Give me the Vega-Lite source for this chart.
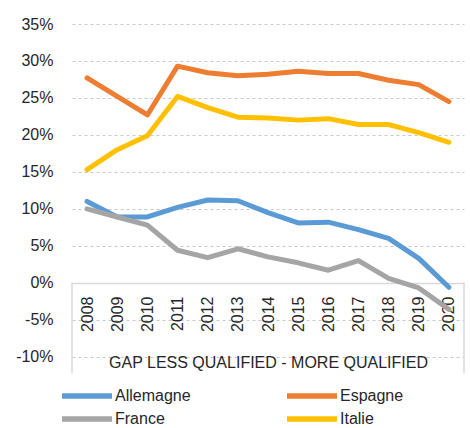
{
  "$schema": "https://vega.github.io/schema/vega-lite/v6.json",
  "width": 392,
  "height": 349,
  "autosize": {"type": "none"},
  "padding": {"left": 72, "top": 24, "right": 6, "bottom": 55},
  "background": "white",
  "config": {
    "view": {"stroke": null},
    "font": "Liberation Sans"
  },
  "resolve": {"axis": {"y": "independent"}},
  "layer": [
    {
      "data": {
        "values": [
          {"year": "2008", "country": "Allemagne", "v": 11.0},
          {"year": "2009", "country": "Allemagne", "v": 8.9},
          {"year": "2010", "country": "Allemagne", "v": 8.9},
          {"year": "2011", "country": "Allemagne", "v": 10.2},
          {"year": "2012", "country": "Allemagne", "v": 11.2},
          {"year": "2013", "country": "Allemagne", "v": 11.1},
          {"year": "2014", "country": "Allemagne", "v": 9.5},
          {"year": "2015", "country": "Allemagne", "v": 8.1},
          {"year": "2016", "country": "Allemagne", "v": 8.2},
          {"year": "2017", "country": "Allemagne", "v": 7.2},
          {"year": "2018", "country": "Allemagne", "v": 6.0},
          {"year": "2019", "country": "Allemagne", "v": 3.3},
          {"year": "2020", "country": "Allemagne", "v": -0.6},
          {"year": "2008", "country": "Espagne", "v": 27.7},
          {"year": "2009", "country": "Espagne", "v": 25.2},
          {"year": "2010", "country": "Espagne", "v": 22.7},
          {"year": "2011", "country": "Espagne", "v": 29.3},
          {"year": "2012", "country": "Espagne", "v": 28.4},
          {"year": "2013", "country": "Espagne", "v": 28.0},
          {"year": "2014", "country": "Espagne", "v": 28.2},
          {"year": "2015", "country": "Espagne", "v": 28.6},
          {"year": "2016", "country": "Espagne", "v": 28.3},
          {"year": "2017", "country": "Espagne", "v": 28.3},
          {"year": "2018", "country": "Espagne", "v": 27.4},
          {"year": "2019", "country": "Espagne", "v": 26.8},
          {"year": "2020", "country": "Espagne", "v": 24.5},
          {"year": "2008", "country": "France", "v": 10.0},
          {"year": "2009", "country": "France", "v": 8.9},
          {"year": "2010", "country": "France", "v": 7.8},
          {"year": "2011", "country": "France", "v": 4.4},
          {"year": "2012", "country": "France", "v": 3.4},
          {"year": "2013", "country": "France", "v": 4.6},
          {"year": "2014", "country": "France", "v": 3.5},
          {"year": "2015", "country": "France", "v": 2.7},
          {"year": "2016", "country": "France", "v": 1.7},
          {"year": "2017", "country": "France", "v": 3.0},
          {"year": "2018", "country": "France", "v": 0.6},
          {"year": "2019", "country": "France", "v": -0.7},
          {"year": "2020", "country": "France", "v": -3.6},
          {"year": "2008", "country": "Italie", "v": 15.3},
          {"year": "2009", "country": "Italie", "v": 18.0},
          {"year": "2010", "country": "Italie", "v": 19.9},
          {"year": "2011", "country": "Italie", "v": 25.2},
          {"year": "2012", "country": "Italie", "v": 23.7},
          {"year": "2013", "country": "Italie", "v": 22.4},
          {"year": "2014", "country": "Italie", "v": 22.3},
          {"year": "2015", "country": "Italie", "v": 22.0},
          {"year": "2016", "country": "Italie", "v": 22.2},
          {"year": "2017", "country": "Italie", "v": 21.4},
          {"year": "2018", "country": "Italie", "v": 21.4},
          {"year": "2019", "country": "Italie", "v": 20.3},
          {"year": "2020", "country": "Italie", "v": 19.0}
        ]
      },
      "mark": {"type": "line", "strokeWidth": 5, "strokeCap": "round", "strokeJoin": "round"},
      "encoding": {
        "x": {
          "field": "year",
          "type": "ordinal",
          "scale": {"type": "point", "padding": 0.5},
          "axis": {
            "orient": "bottom",
            "offset": -90,
            "labelAngle": 270,
            "labelAlign": "right",
            "labelBaseline": "middle",
            "labelFontSize": 16,
            "labelColor": "#262626",
            "labelPadding": 13,
            "labelOverlap": false,
            "ticks": false,
            "grid": false,
            "domainColor": "#d9d9d9",
            "domainWidth": 1.5,
            "title": "GAP LESS QUALIFIED - MORE QUALIFIED",
            "titleFontSize": 16,
            "titleFontWeight": "normal",
            "titleColor": "#262626",
            "titlePadding": 23
          }
        },
        "y": {
          "field": "v",
          "type": "quantitative",
          "scale": {"domain": [-12.2, 35], "nice": false, "zero": false},
          "axis": {
            "orient": "left",
            "values": [-10, -5, 0, 5, 10, 15, 20, 25, 30, 35],
            "labelExpr": "datum.value + '%'",
            "labelFontSize": 16,
            "labelColor": "#262626",
            "labelPadding": 19,
            "labelOverlap": false,
            "domain": false,
            "ticks": false,
            "grid": true,
            "gridColor": "#c8c8c8",
            "gridDash": [3, 3],
            "title": null
          }
        },
        "color": {
          "field": "country",
          "type": "nominal",
          "scale": {
            "domain": ["Allemagne", "Espagne", "France", "Italie"],
            "range": ["#5b9bd5", "#ed7d31", "#a5a5a5", "#ffc000"]
          },
          "legend": {
            "orient": "none",
            "legendX": 7,
            "legendY": 364,
            "columns": 2,
            "direction": "horizontal",
            "symbolType": "M-5,0H5",
            "symbolSize": 100,
            "symbolStrokeWidth": 5.5,
            "labelFontSize": 16,
            "labelColor": "#262626",
            "labelOffset": 20,
            "columnPadding": 85,
            "rowPadding": 1,
            "title": null
          }
        }
      }
    },
    {
      "data": {"values": [{}]},
      "mark": {"type": "rule", "color": "#d9d9d9", "strokeWidth": 1.5},
      "encoding": {
        "x": {"value": 0},
        "y": {"datum": 0, "type": "quantitative", "axis": null},
        "y2": {"datum": -12.2}
      }
    },
    {
      "data": {"values": [{}]},
      "mark": {"type": "rule", "color": "#d9d9d9", "strokeWidth": 1.5},
      "encoding": {
        "x": {"value": "width"},
        "y": {"datum": 0, "type": "quantitative", "axis": null},
        "y2": {"datum": -12.2}
      }
    }
  ]
}
